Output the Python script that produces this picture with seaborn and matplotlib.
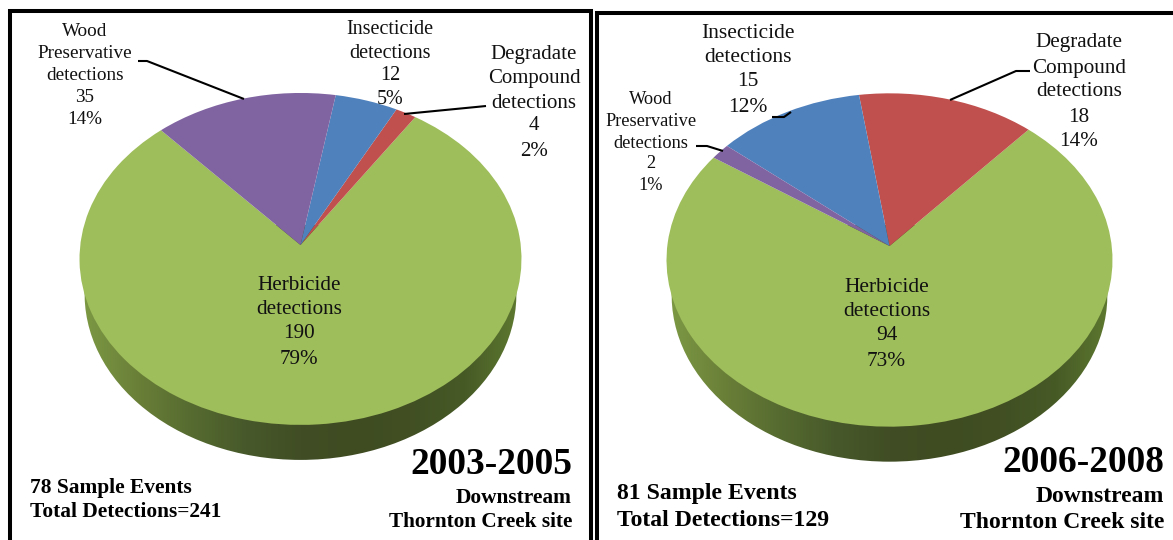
#!/usr/bin/env python3
# -*- coding: utf-8 -*-
import numpy as np
import matplotlib
matplotlib.use('Agg')
import matplotlib.pyplot as plt
import seaborn as sns
from matplotlib.patches import Circle
from matplotlib.transforms import Transform

# categories in the order they go round the pie
categories = ['Herbicide', 'Degradate\nCompound', 'Insecticide', 'Wood\nPreservative']
counts_early = [190, 4, 12, 35]
percents_early = [79, 2, 5, 14]
counts_late = [94, 18, 15, 2]
percents_late = [73, 14, 12, 1]

periods = ['2003-2005', '2006-2008']
sample_events = [78, 81]
total_detections = [241, 129]

slice_colors = ['#9EBD5B', '#C0504D', '#4F81BD', '#8064A2']
wall_colors = ['#7d9a45', '#6a8038', '#566b30', '#47592a', '#414e25',
               '#3f4c22', '#414f23', '#465a26', '#5f7a30']

FONT = 'Liberation Serif'


class Tilt(Transform):
    # perspective of a flat disc seen from above, unit circle to figure pixels
    input_dims = 2
    output_dims = 2
    has_inverse = False

    def __init__(self, cx, cy, rx, ry, k=0.084):
        super().__init__()
        self.cx, self.cy, self.rx, self.ry, self.k = cx, cy, rx, ry, k

    def transform_non_affine(self, values):
        values = np.asarray(values)
        w = 1 + self.k * values[:, 1]
        return np.column_stack([self.cx + self.rx * values[:, 0] / w,
                                self.cy - self.ry * values[:, 1] / w])


def draw_pie(ax, counts, startangle, cx, cy, rx, ry, depth):
    # side wall first, a gradient clipped to the lower disc
    lower = Circle((0, 0), 1, transform=Tilt(cx, cy + depth, rx * 0.977, ry) + ax.transData,
                   facecolor='none', edgecolor='none')
    ax.add_patch(lower)
    cmap = sns.blend_palette(wall_colors, as_cmap=True)
    im = ax.imshow(np.linspace(0, 1, 256)[None, :], cmap=cmap, aspect='auto', zorder=1,
                   extent=(cx - rx, cx + rx, cy + depth + ry + 20, cy - 20))
    im.set_clip_path(lower)

    wedges, _ = ax.pie(counts, colors=slice_colors, startangle=startangle, radius=1,
                       wedgeprops={'linewidth': 0})
    top = Tilt(cx, cy, rx, ry) + ax.transData
    for w in wedges:
        w.set_transform(top)
        w.set_zorder(2)


def label(ax, x, ys, lines, size):
    for y, line in zip(ys, lines):
        ax.text(x, y + 2, line, ha='center', va='center', fontsize=size, family=FONT,
                color='#111111', zorder=4)


def note(ax, x, y, text, size, ha='right'):
    ax.text(x, y + 2, text, ha=ha, va='center', fontsize=size, family=FONT,
            fontweight='bold', color='black', zorder=4)


def leader(ax, xs, ys):
    ax.plot(xs, ys, color='black', lw=1.5, zorder=3, solid_capstyle='butt')


sns.set_theme(style='white')
fig = plt.figure(figsize=(11.73, 5.40), dpi=100)
ax = fig.add_axes([0, 0, 1, 1])

draw_pie(ax, counts_early, 132.3, 300.5, 245, 220.2, 164.8, 35)
draw_pie(ax, counts_late, 146, 889.5, 246, 222.2, 165.5, 35)

# panel frames, open at the bottom where the picture is cut
ax.plot([10, 10, 591, 591], [540, 11, 11, 540], color='black', lw=2.9, zorder=5,
        solid_joinstyle='miter')
ax.plot([597, 597, 1173], [540, 13, 13], color='black', lw=2.9, zorder=5,
        solid_joinstyle='miter')


def parts(i, counts, percents):
    name = categories[i].split('\n')
    return name + ['detections', str(counts[i]), f'{percents[i]}%']


# left pie labels
label(ax, 299, [283, 307, 332, 357], parts(0, counts_early, percents_early), 15.2)
label(ax, 534, [52, 76, 101, 124, 150], parts(1, counts_early, percents_early), 15)
label(ax, 390, [28, 51, 74, 98], parts(2, counts_early, percents_early), 14.5)
label(ax, 85, [29, 51, 73, 96, 118], parts(3, counts_early, percents_early), 13.8)
leader(ax, [138, 147, 244], [61, 61, 99])
leader(ax, [486, 476, 404], [106, 107, 114])

# right pie labels
label(ax, 886.5, [285, 309, 334, 359], parts(0, counts_late, percents_late), 15.4)
label(ax, 1079, [41, 66, 90, 115, 140], parts(1, counts_late, percents_late), 15.2)
label(ax, 748, [31, 55, 80, 105], parts(2, counts_late, percents_late), 15.5)
label(ax, 650.5, [97, 119, 141, 162, 183], parts(3, counts_late, percents_late), 13.2)
leader(ax, [1030, 1016, 950], [71, 71, 100])
leader(ax, [772, 784, 791], [117, 117, 112])
leader(ax, [696, 707, 723], [146, 146, 151])

# period titles and notes
note(ax, 572, 463, periods[0], 26.9)
note(ax, 572, 496, 'Downstream', 15.4)
note(ax, 572, 520, 'Thornton Creek site', 15.3)
note(ax, 30, 486, f'{sample_events[0]} Sample Events', 15.4, ha='left')
note(ax, 30, 510, f'Total Detections={total_detections[0]}', 15.4, ha='left')

note(ax, 1164, 460, periods[1], 26.9)
note(ax, 1164, 495, 'Downstream', 17)
note(ax, 1164, 521, 'Thornton Creek site', 17)
note(ax, 617, 491, f'{sample_events[1]} Sample Events', 17.1, ha='left')
note(ax, 617, 518, f'Total Detections={total_detections[1]}', 17.1, ha='left')

# figure pixels as data units
ax.set_aspect('auto')
ax.set_xlim(0, 1173)
ax.set_ylim(540, 0)
ax.axis('off')

fig.savefig('out.png', dpi=100)
